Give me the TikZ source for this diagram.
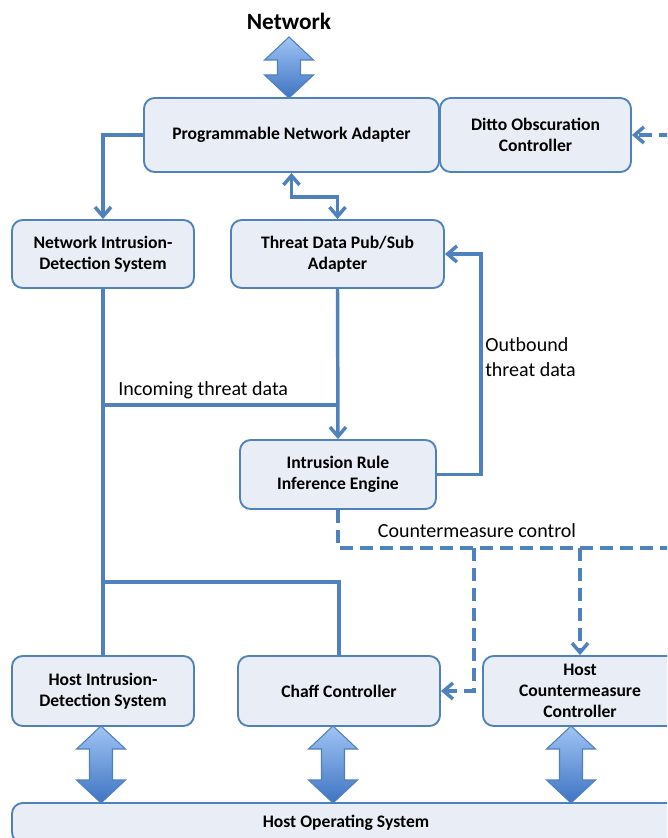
\documentclass[tikz,border=0pt]{standalone}
\usepackage{fontspec}
\setmainfont{Carlito}
\usetikzlibrary{arrows.meta}
\definecolor{lb}{RGB}{79,129,189}
\definecolor{boxfill}{RGB}{233,237,245}
\definecolor{agtop}{RGB}{160,196,244}
\definecolor{agbot}{RGB}{62,116,194}
\tikzset{
  box/.style={draw=lb, line width=1.4pt, fill=boxfill, rounded corners=8pt, align=center,
    font=\fontsize{13.2}{15.8}\selectfont\bfseries, inner sep=0pt},
  wh/.style 2 args={minimum width=#1*0.75pt, minimum height=#2*0.75pt},
  conn/.style={draw=lb, line width=2.6pt},
  tipend/.style={-{Straight Barb[length=7pt,width=12pt]}},
  tipboth/.style={{Straight Barb[length=7pt,width=12pt]}-{Straight Barb[length=7pt,width=12pt]}},
  dconn/.style={draw=lb, line width=2.6pt, dash pattern=on 10pt off 5pt},
  lbl/.style={font=\fontsize{15}{18.8}\selectfont, inner sep=0pt},
  bigarrow/.style={top color=agtop, bottom color=agbot, draw=lb, line width=0.8pt},
}
\newcommand\dblarr[3]{%
  \shadedraw[bigarrow] (#1,#2) -- (#1+24.5,#2+23) -- (#1+11.5,#2+23) -- (#1+11.5,#3-23)
    -- (#1+24.5,#3-23) -- (#1,#3) -- (#1-24.5,#3-23) -- (#1-11.5,#3-23)
    -- (#1-11.5,#2+23) -- (#1-24.5,#2+23) -- cycle;}
\begin{document}
\begin{tikzpicture}[x=0.75pt,y=-0.75pt]
\useasboundingbox (0,0) rectangle (667,838);
\clip (0,0) rectangle (667,838);

% nodes
\node[box, wh={295}{74}] (pna) at (291.5,135) {Programmable Network Adapter};
\node[box, wh={191}{74}] (ditto) at (535.5,135) {Ditto Obscuration\\Controller};
\node[box, wh={182}{68}] (nids) at (103,254) {Network Intrusion-\\Detection System};
\node[box, wh={213}{68}] (tdps) at (337.5,254) {Threat Data Pub/Sub\\Adapter};
\node[box, wh={196}{69}] (irie) at (338,474.5) {Intrusion Rule\\Inference Engine};
\node[box, wh={182}{70}] (hids) at (103,691) {Host Intrusion-\\Detection System};
\node[box, wh={202}{70}] (chaff) at (339,691) {Chaff Controller};
\node[box, wh={194}{70}] (hcc) at (580,691) {Host\\Countermeasure\\Controller};
\node[box, wh={668}{40}] (hos) at (346,823) {Host Operating System};

\node[font=\fontsize{17.5}{20}\selectfont\bfseries, inner sep=0pt] (net) at (289,21) {Network};

% big double arrows
\dblarr{289}{37}{98}
\dblarr{101}{726}{803}
\dblarr{333}{726}{803}
\dblarr{571}{726}{803}

% coordinates
\coordinate (incL) at (103,405);
\coordinate (incR) at (338,405);
\coordinate (chL) at (103,582);
\coordinate (cmR) at (672,548);
\coordinate (cmA) at (474,548);
\coordinate (cmB) at (580,548);
\coordinate (dR) at (672,135);

% connectors
\draw[conn, tipend] (pna.west) -| (nids.north);
\draw[conn, tipboth] (pna.south) -- ++(0,24) -| (tdps.north);
\draw[conn, tipend] (tdps.south) -- (irie.north);
\draw[conn] (nids.south) -- (hids.north);
\draw[conn] (incL) -- (incR);
\draw[conn, tipend] (irie.east) -- ++(44,0) |- (tdps.east);
\draw[conn] (chL) -| (chaff.north);
\draw[dconn] (irie.south) |- (cmR);
\draw[dconn, tipend] (cmA) |- (chaff.east);
\draw[dconn, tipend] (cmB) -- (hcc.north);
\draw[dconn, tipend] (dR) -- (ditto.east);

% labels
\node[lbl, anchor=west] (lin) at (118,390) {Incoming threat data};
\node[lbl, anchor=west, align=left] (lout) at (485,357) {Outbound\\threat data};
\node[lbl] (lcm) at (477,531) {Countermeasure control};
\end{tikzpicture}
\end{document}
